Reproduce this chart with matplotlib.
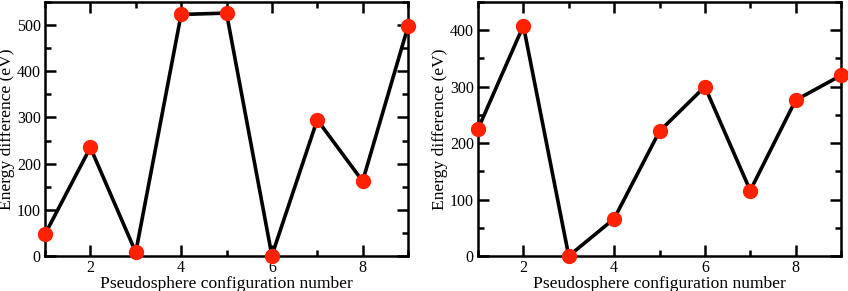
import matplotlib
matplotlib.use('Agg')
import matplotlib.pyplot as plt
from matplotlib.ticker import MultipleLocator

plt.rcParams['font.family'] = ['Liberation Serif', 'DejaVu Serif']

config = [1, 2, 3, 4, 5, 6, 7, 8, 9]
energy_left = [47, 235, 8, 523, 526, 1, 295, 162, 497]
energy_right = [225, 408, 0, 66, 221, 300, 116, 276, 320]

fig = plt.figure(figsize=(8.48, 2.91), dpi=100)
ax1 = fig.add_axes([45/848, 1-256/291, (408-45)/848, 254/291])
ax2 = fig.add_axes([478/848, 1-256/291, (841-478)/848, 254/291])

for ax, y, ymax in [(ax1, energy_left, 550), (ax2, energy_right, 450)]:
    ax.plot(config, y, color='black', lw=2.6, zorder=2, clip_on=False)
    ax.plot(config, y, 'o', color='#ff2200', ms=10, mec='#ff2200', zorder=3, clip_on=False)
    ax.set_xlim(1, 9)
    ax.set_ylim(0, ymax)
    ax.xaxis.set_major_locator(MultipleLocator(2))
    ax.xaxis.set_minor_locator(MultipleLocator(1))
    ax.yaxis.set_major_locator(MultipleLocator(100))
    ax.yaxis.set_minor_locator(MultipleLocator(50))
    ax.tick_params(which='both', direction='in', top=True, right=True, width=1.8,
                   labelsize=11.5, pad=3)
    ax.tick_params(which='major', length=8)
    ax.tick_params(which='minor', length=4)
    for s in ax.spines.values():
        s.set_linewidth(1.8)
    ax.set_xlabel('Pseudosphere configuration number', fontsize=12.6, labelpad=0)
    ax.set_ylabel('Energy difference (eV)', fontsize=12.6, labelpad=1)

fig.savefig('out.png', dpi=100)
